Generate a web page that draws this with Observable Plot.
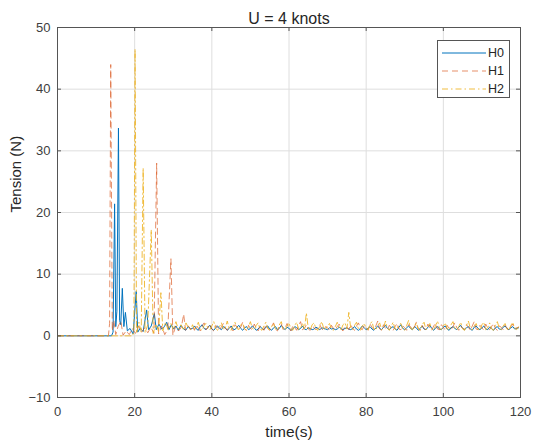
<!DOCTYPE html>
<html>
<head>
<meta charset="utf-8">
<script src="https://cdn.jsdelivr.net/npm/d3@7"></script>
<script src="https://cdn.jsdelivr.net/npm/@observablehq/plot@0.6"></script>
<style>
  html, body { margin: 0; padding: 0; background: #fff; }
  #wrap { position: relative; width: 534px; height: 447px; font-family: "Liberation Sans", Arial, sans-serif; }
  #legend { position: absolute; left: 437px; top: 40px; width: 71px; height: 56px; border: 1px solid #555; background: #fff; box-sizing: content-box; }
  .row { position: absolute; left: 3px; height: 18px; display: flex; align-items: center; font-size: 12.5px; color: #262626; }
  .row svg { margin-right: 2px; }
</style>
</head>
<body>
<div id="wrap"></div>
<script>
// ---- Data ----
const title = "U = 4 knots";
const xLabel = "time(s)";
const yLabel = "Tension (N)";
const seriesNames = ["H0", "H1", "H2"];
const seriesColors = ["#0072BD", "#D95319", "#EDB120"];
const xTicks = [0, 20, 40, 60, 80, 100, 120];
const yTicks = [-10, 0, 10, 20, 30, 40, 50];

// early part (irregular sampling around the spikes)
const h0HeadTime  = [0, 14, 14.4, 14.8, 15.1, 15.4, 15.8, 16.1, 16.4, 16.8, 17.2, 17.6, 18.1, 18.8, 19.6, 20.4, 20.8, 21.4, 22.2, 23.1, 23.6, 24.3, 25.1, 25.6, 26.3, 27, 27.7, 28.3, 28.9, 29.5, 30.1, 30.7, 31.3, 32, 32.6, 33.2, 33.9, 34.5];
const h0HeadValue = [0, 0, 0.6, 21.4, 1.5, 4, 33.7, 2.5, 1.8, 7.7, 1.5, 3.8, 0.8, 1.2, 0.3, 7.2, 0.6, 1.2, 0.7, 4.2, 1.0, 1.6, 3.6, 1.0, 1.9, 1.1, 1.5, 2.2, 1.0, 1.8, 1.1, 1.6, 0.9, 1.7, 1.2, 0.9, 1.5, 1.1];

const h1HeadTime  = [0, 13.2, 13.5, 13.8, 14.2, 14.6, 15.1, 15.7, 16.4, 17, 17.8, 18.6, 19.4, 20.2, 21, 21.8, 22.6, 23.4, 24.2, 25, 25.7, 26.2, 27, 27.8, 28.6, 29.4, 29.9, 30.6, 31.4, 32.1, 32.7, 33.2, 33.9, 34.5];
const h1HeadValue = [0, 0, 2, 44, 0.8, 2.5, 0.2, 1.5, 2.4, 0.1, 0.8, 0.2, 1.2, 0.4, 1.6, 0.6, 1.3, 0.5, 1.4, 0.4, 28, 0.3, 1.6, 0.2, 1.1, 12.5, 0.1, 1.5, 0.8, 1.4, 3.5, 0.9, 1.6, 1.0];

const h2HeadTime  = [0, 19.5, 19.8, 20.1, 20.5, 21.1, 21.7, 22.2, 22.7, 23.4, 24.3, 24.8, 25.5, 26.2, 26.8, 27.3, 28, 28.7, 29.4, 30, 30.7, 31.3, 32, 32.7, 33.3, 34, 34.5];
const h2HeadValue = [0, 0, 1, 46.5, 0.4, 2.2, 0.6, 27.2, 0.5, 1.8, 17.2, 0.4, 1.9, 0.7, 7, 0.8, 2.2, 0.9, 2.0, 1.0, 2.3, 1.1, 1.8, 0.9, 2.1, 1.2, 1.0];

// steady part (regular sampling)
const tailTime = [
  35,35.5,36,36.5,37,37.5,38,38.5,39,39.5,
  40,40.5,41,41.5,42,42.5,43,43.5,44,44.5,
  45,45.5,46,46.5,47,47.5,48,48.5,49,49.5,
  50,50.5,51,51.5,52,52.5,53,53.5,54,54.5,
  55,55.5,56,56.5,57,57.5,58,58.5,59,59.5,
  60,60.5,61,61.5,62,62.5,63,63.5,64,64.5,
  65,65.5,66,66.5,67,67.5,68,68.5,69,69.5,
  70,70.5,71,71.5,72,72.5,73,73.5,74,74.5,
  75,75.5,76,76.5,77,77.5,78,78.5,79,79.5,
  80,80.5,81,81.5,82,82.5,83,83.5,84,84.5,
  85,85.5,86,86.5,87,87.5,88,88.5,89,89.5,
  90,90.5,91,91.5,92,92.5,93,93.5,94,94.5,
  95,95.5,96,96.5,97,97.5,98,98.5,99,99.5,
  100,100.5,101,101.5,102,102.5,103,103.5,104,104.5,
  105,105.5,106,106.5,107,107.5,108,108.5,109,109.5,
  110,110.5,111,111.5,112,112.5,113,113.5,114,114.5,
  115,115.5,116,116.5,117,117.5,118,118.5,119,119.5
];
const h0Tail = [
  1.2,1.6,1.1,0.9,1.5,1.8,1.2,1.0,1.4,1.7,
  1.1,0.9,1.3,1.6,1.2,1.0,1.5,1.3,0.9,1.2,
  1.6,1.1,1.0,1.4,1.7,1.2,0.9,1.3,1.5,1.0,
  1.2,1.6,1.3,0.9,1.1,1.5,1.2,1.0,1.4,1.6,
  1.1,0.9,1.3,1.5,1.0,1.2,1.7,1.3,1.0,1.4,
  1.2,0.9,1.1,1.5,1.3,1.0,1.2,1.6,1.1,1.0,
  1.3,1.2,1.0,1.1,1.4,1.2,1.0,1.3,1.2,1.1,
  1.0,1.3,1.1,1.2,1.0,1.1,1.4,1.2,1.0,1.2,
  1.3,1.1,1.0,1.2,1.5,1.1,0.9,1.2,1.6,1.3,
  1.0,1.2,1.5,1.1,0.9,1.3,1.6,1.2,1.0,1.4,
  1.7,1.2,1.0,1.3,1.5,1.1,0.9,1.4,1.8,1.2,
  1.0,1.3,1.6,1.2,1.0,1.5,1.3,0.9,1.2,1.6,
  1.1,1.0,1.4,1.7,1.2,0.9,1.3,1.5,1.1,1.0,
  1.4,1.6,1.1,0.9,1.3,1.5,1.2,1.0,1.4,1.7,
  1.2,1.0,1.3,1.5,1.1,0.9,1.4,1.6,1.2,1.0,
  1.3,1.6,1.1,1.0,1.4,1.2,0.9,1.3,1.5,1.1,
  1.0,1.4,1.6,1.2,1.0,1.3,1.5,1.1,1.2,1.3
];
const h1Tail = [
  1.5,0.9,1.8,1.2,0.8,1.6,2.1,1.0,1.3,1.9,
  1.1,0.8,1.7,1.4,0.9,1.5,2.0,1.2,0.9,1.6,
  1.3,0.8,1.8,1.5,1.0,1.4,2.2,1.1,0.9,1.7,
  1.2,1.0,1.9,1.3,0.8,1.6,1.4,0.9,1.8,1.2,
  0.9,1.5,2.1,1.1,0.8,1.4,1.9,1.0,1.3,2.0,
  1.2,0.8,1.6,1.3,0.9,1.7,2.3,1.0,1.2,1.8,
  1.1,0.9,1.6,1.3,1.0,1.4,1.8,1.1,0.9,1.5,
  1.3,0.9,1.7,1.2,1.0,1.5,1.9,1.1,0.8,1.6,
  1.4,1.0,1.8,1.2,0.9,1.6,2.1,1.2,1.0,1.7,
  1.3,0.9,1.9,1.4,1.0,1.6,2.4,1.1,0.9,1.8,
  1.2,1.0,1.7,1.3,0.9,1.5,2.0,1.1,1.0,1.6,
  1.3,0.9,1.8,1.5,1.0,1.4,2.2,1.2,0.9,1.7,
  1.2,1.0,1.9,1.3,0.9,1.6,2.0,1.1,1.0,1.8,
  1.4,0.9,1.7,1.2,1.0,1.5,2.1,1.3,0.9,1.6,
  1.2,1.0,1.8,1.4,0.9,1.6,2.3,1.1,1.0,1.7,
  1.3,0.9,1.9,1.2,1.0,1.5,2.0,1.2,0.9,1.6,
  1.4,1.0,1.7,1.3,0.9,1.5,1.9,1.2,1.3,1.4
];
const h2Tail = [
  1.8,1.0,1.4,2.2,1.1,0.9,1.7,2.0,1.2,1.0,
  1.6,2.3,1.2,0.9,1.5,2.1,1.0,1.3,2.4,1.1,
  0.9,1.6,2.2,1.2,1.0,1.8,2.0,1.1,0.9,1.5,
  2.3,1.2,1.0,1.7,2.1,1.1,0.9,1.6,2.2,1.2,
  1.0,1.5,2.0,1.1,0.9,1.8,2.3,1.2,1.0,1.6,
  2.1,1.1,0.9,1.7,2.2,1.0,1.3,2.0,1.1,3.7,
  1.2,1.0,1.8,2.1,1.1,0.9,1.6,2.3,1.2,1.0,
  1.7,2.0,1.1,0.9,1.5,2.2,1.2,1.0,1.8,2.1,
  1.1,3.8,1.2,1.0,1.7,2.2,1.1,0.9,1.6,2.0,
  1.2,1.0,1.9,2.3,1.1,0.9,1.7,2.1,1.0,1.3,
  2.4,1.2,0.9,1.6,2.2,1.1,1.0,1.8,2.0,1.1,
  0.9,1.7,2.5,1.2,1.0,1.6,2.1,1.1,0.9,1.8,
  2.2,1.0,1.3,2.0,1.1,0.9,1.7,2.4,1.2,1.0,
  1.6,2.1,1.1,0.9,1.8,2.3,1.2,1.0,1.5,2.2,
  1.1,0.9,1.7,2.4,1.2,1.0,1.6,2.0,1.1,0.9,
  1.8,2.2,1.0,1.3,2.1,1.1,0.9,1.7,2.3,1.2,
  1.0,1.6,2.0,1.1,0.9,1.7,2.2,1.2,1.0,1.5
];

// ---- Build tables ----
function build(headT, headV, tailV) {
  const rows = headT.map((t, i) => ({t, v: headV[i]}));
  tailTime.forEach((t, i) => rows.push({t, v: tailV[i]}));
  return rows;
}
const h0 = build(h0HeadTime, h0HeadValue, h0Tail);
const h1 = build(h1HeadTime, h1HeadValue, h1Tail);
const h2 = build(h2HeadTime, h2HeadValue, h2Tail);

const W = 534, H = 447;
const mL = 57, mR = 14, mT = 27, mB = 50;
const fw = W - mL - mR, fh = H - mT - mB;
const tick = 4;
const textColor = "#262626";
const tickColor = "#404040";
const frameColor = "#555";

const chart = Plot.plot({
  width: W,
  height: H,
  marginLeft: mL, marginRight: mR, marginTop: mT, marginBottom: mB,
  style: {fontFamily: '"Liberation Sans", Arial, sans-serif', fontSize: "13px", color: textColor, background: "#fff"},
  x: {domain: [0, 120], ticks: xTicks},
  y: {domain: [-10, 50], ticks: yTicks},
  marks: [
    Plot.gridX(xTicks, {stroke: "#dedede", strokeOpacity: 1}),
    Plot.gridY(yTicks, {stroke: "#dedede", strokeOpacity: 1}),
    Plot.line(h0, {x: "t", y: "v", stroke: seriesColors[0], strokeWidth: 1, clip: true}),
    Plot.line(h1, {x: "t", y: "v", stroke: seriesColors[1], strokeWidth: 1, strokeOpacity: 0.65, strokeDasharray: "6,4", clip: true}),
    Plot.line(h2, {x: "t", y: "v", stroke: seriesColors[2], strokeWidth: 1, strokeOpacity: 0.85, strokeDasharray: "6,3,1.5,3", clip: true}),
    // inward ticks on all four sides
    Plot.ruleX(xTicks, {stroke: frameColor, insetTop: fh - tick}),
    Plot.ruleX(xTicks, {stroke: frameColor, insetBottom: fh - tick}),
    Plot.ruleY(yTicks, {stroke: frameColor, insetRight: fw - tick}),
    Plot.ruleY(yTicks, {stroke: frameColor, insetLeft: fw - tick}),
    Plot.frame({stroke: frameColor}),
    Plot.axisX(xTicks, {tickSize: 0, tickPadding: 9, fill: tickColor, fontSize: 13, label: null}),
    Plot.axisY(yTicks, {tickSize: 0, tickPadding: 7, fill: tickColor, fontSize: 13, label: null}),
    Plot.text([title], {frameAnchor: "top", dy: -15, fontSize: 16, fill: textColor}),
    Plot.text([xLabel], {frameAnchor: "bottom", dy: 39, fontSize: 15.5, fill: textColor}),
    Plot.text([yLabel], {frameAnchor: "left", dx: -41, rotate: -90, fontSize: 15, fill: textColor})
  ]
});

const wrap = document.getElementById("wrap");
wrap.appendChild(chart);

// legend
const legend = document.createElement("div");
legend.id = "legend";
const dashes = [null, "6,4", "6,3,1.5,3"];
const opac = [1, 0.65, 0.85];
seriesNames.forEach((name, i) => {
  const row = document.createElement("div");
  row.className = "row";
  row.style.top = (3 + i * 18) + "px";
  row.innerHTML = `<svg width="45" height="18"><line x1="1" x2="45" y1="9" y2="9" stroke="${seriesColors[i]}" stroke-opacity="${opac[i]}" stroke-width="1" ${dashes[i] ? `stroke-dasharray="${dashes[i]}"` : ""}/></svg><span>${name}</span>`;
  legend.appendChild(row);
});
wrap.appendChild(legend);
</script>
</body>
</html>
